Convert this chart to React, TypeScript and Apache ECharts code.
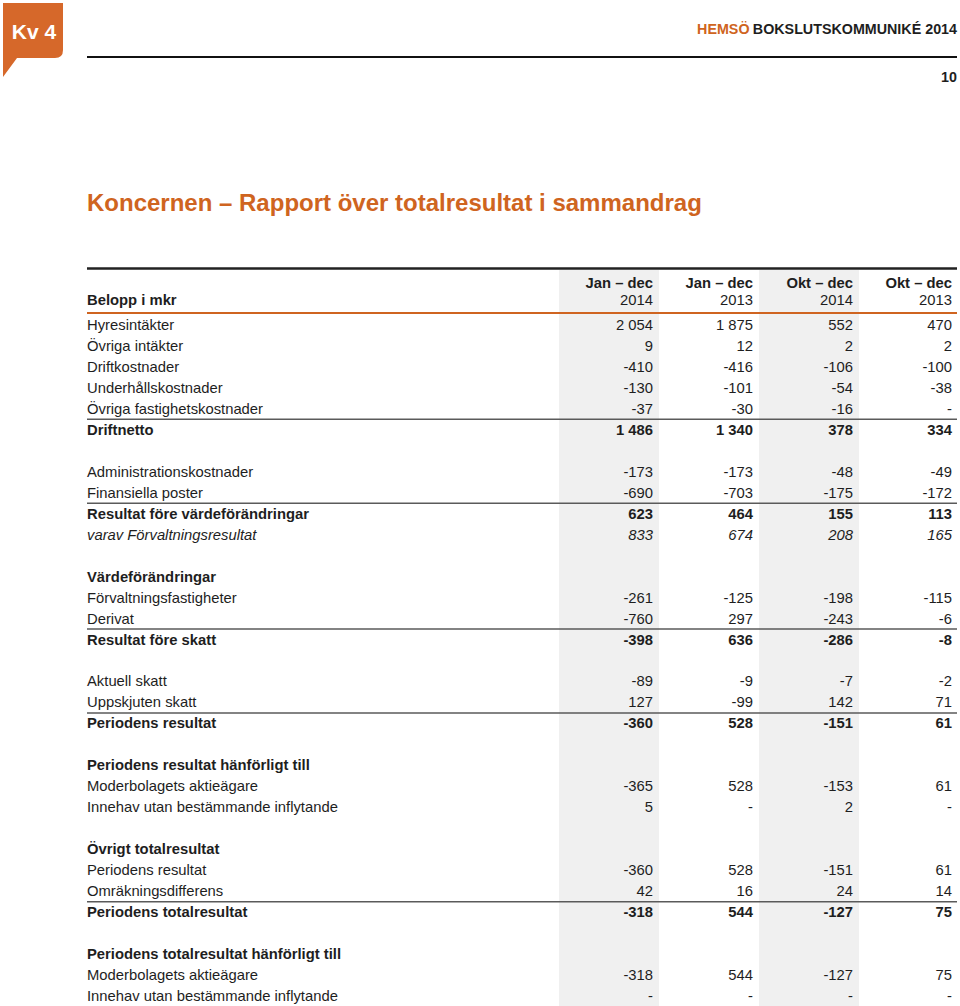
import React, { useEffect, useRef } from "react";
import * as echarts from "echarts";

// ---- Data ----
const columnHeadTop = ["Jan – dec", "Jan – dec", "Okt – dec", "Okt – dec"];
const columnHeadBottom = ["2014", "2013", "2014", "2013"];

// kind: n = normal, b = bold with values, h = bold heading (no values), i = italic, x = blank row
const rowLabels = [
  "Hyresintäkter", "Övriga intäkter", "Driftkostnader", "Underhållskostnader", "Övriga fastighetskostnader", "Driftnetto",
  "", "Administrationskostnader", "Finansiella poster", "Resultat före värdeförändringar", "varav Förvaltningsresultat",
  "", "Värdeförändringar", "Förvaltningsfastigheter", "Derivat", "Resultat före skatt",
  "", "Aktuell skatt", "Uppskjuten skatt", "Periodens resultat",
  "", "Periodens resultat hänförligt till", "Moderbolagets aktieägare", "Innehav utan bestämmande inflytande",
  "", "Övrigt totalresultat", "Periodens resultat", "Omräkningsdifferens", "Periodens totalresultat",
  "", "Periodens totalresultat hänförligt till", "Moderbolagets aktieägare", "Innehav utan bestämmande inflytande",
];
const rowKinds = [
  "n", "n", "n", "n", "n", "b",
  "x", "n", "n", "b", "i",
  "x", "h", "n", "n", "b",
  "x", "n", "n", "b",
  "x", "h", "n", "n",
  "x", "h", "n", "n", "b",
  "x", "h", "n", "n",
];
// null = "-" (or blank for rows without values)
const janDec2014: (number | null)[] = [
  2054, 9, -410, -130, -37, 1486,
  null, -173, -690, 623, 833,
  null, null, -261, -760, -398,
  null, -89, 127, -360,
  null, null, -365, 5,
  null, null, -360, 42, -318,
  null, null, -318, null,
];
const janDec2013: (number | null)[] = [
  1875, 12, -416, -101, -30, 1340,
  null, -173, -703, 464, 674,
  null, null, -125, 297, 636,
  null, -9, -99, 528,
  null, null, 528, null,
  null, null, 528, 16, 544,
  null, null, 544, null,
];
const oktDec2014: (number | null)[] = [
  552, 2, -106, -54, -16, 378,
  null, -48, -175, 155, 208,
  null, null, -198, -243, -286,
  null, -7, 142, -151,
  null, null, -153, 2,
  null, null, -151, 24, -127,
  null, null, -127, null,
];
const oktDec2013: (number | null)[] = [
  470, 2, -100, -38, null, 334,
  null, -49, -172, 113, 165,
  null, null, -115, -6, -8,
  null, -2, 71, 61,
  null, null, 61, null,
  null, null, 61, 14, 75,
  null, null, 75, null,
];
const ruleBeforeRows = [5, 9, 15, 19, 28];

// ---- Layout / style ----
const FONT = "'Liberation Sans', Arial, Helvetica, sans-serif";
const ORANGE = "#cf6420";
const TEXT = "#1e1e1e";
const LEFT = 87;
const RIGHT = 957;
const COL_RIGHT = [653, 753, 853, 952];
const GRAY_X = [559, 759];
const ROW0 = 325;
const ROW_H = 20.97;
const FS = 14.8;

function fmt(v: number | null): string {
  if (v === null) return "-";
  const s = Math.abs(v).toString().replace(/\B(?=(\d{3})+(?!\d))/g, " ");
  return (v < 0 ? "-" : "") + s;
}

export default function App() {
  const ref = useRef<HTMLDivElement>(null);
  useEffect(() => {
    if (!ref.current) return;
    const chart = echarts.init(ref.current, null, { renderer: "svg" });
    try {
      echarts.graphic.registerShape(
        "logo",
        echarts.graphic.extendPath("M3 3 L63 3 L63 50 Q63 58 55 58 L17 58 L3 77 Z", {})
      );
    } catch (e) {}

    const els: any[] = [];
    // gray column backgrounds
    GRAY_X.forEach((x) =>
      els.push({ type: "rect", shape: { x, y: 270, width: 100, height: 740 }, style: { fill: "#f0f0f0" }, silent: true })
    );
    // logo
    els.push({ type: "logo", x: 0, y: 0, style: { fill: "#d6682a" } });
    els.push({
      type: "text", x: 34, y: 31,
      style: { text: "Kv 4", fill: "#fff", font: `bold 21px ${FONT}`, align: "center", verticalAlign: "middle" },
    });
    // header
    els.push({
      type: "text", x: RIGHT, y: 29,
      style: {
        text: "{a|HEMSÖ} {b|BOKSLUTSKOMMUNIKÉ 2014}", align: "right", verticalAlign: "middle",
        rich: {
          a: { fill: ORANGE, fontSize: 14.3, fontWeight: "bold", fontFamily: FONT },
          b: { fill: TEXT, fontSize: 14.3, fontWeight: "bold", fontFamily: FONT },
        },
      },
    });
    els.push({ type: "line", shape: { x1: LEFT, y1: 57, x2: RIGHT, y2: 57 }, style: { stroke: "#111", lineWidth: 2 } });
    els.push({
      type: "text", x: RIGHT, y: 77,
      style: { text: "10", fill: TEXT, font: `bold 14.3px ${FONT}`, align: "right", verticalAlign: "middle" },
    });
    // title
    els.push({
      type: "text", x: LEFT, y: 202,
      style: {
        text: "Koncernen – Rapport över totalresultat i sammandrag", fill: ORANGE,
        font: `bold 24px ${FONT}`, align: "left", verticalAlign: "middle",
      },
    });
    // table top rule
    els.push({ type: "line", shape: { x1: LEFT, y1: 268.5, x2: RIGHT, y2: 268.5 }, style: { stroke: "#222", lineWidth: 2.5 } });
    // column heads
    els.push({
      type: "text", x: LEFT, y: 300,
      style: { text: "Belopp i mkr", fill: TEXT, font: `bold ${FS}px ${FONT}`, align: "left", verticalAlign: "middle" },
    });
    COL_RIGHT.forEach((x, c) => {
      els.push({
        type: "text", x, y: 283,
        style: { text: columnHeadTop[c], fill: TEXT, font: `bold ${FS}px ${FONT}`, align: "right", verticalAlign: "middle" },
      });
      els.push({
        type: "text", x, y: 300,
        style: { text: columnHeadBottom[c], fill: TEXT, font: `${FS}px ${FONT}`, align: "right", verticalAlign: "middle" },
      });
    });
    els.push({ type: "line", shape: { x1: LEFT, y1: 313, x2: RIGHT, y2: 313 }, style: { stroke: ORANGE, lineWidth: 2 } });

    // rows
    const cols = [janDec2014, janDec2013, oktDec2014, oktDec2013];
    rowLabels.forEach((label, i) => {
      const kind = rowKinds[i];
      if (kind === "x") return;
      const y = ROW0 + i * ROW_H;
      const weight = kind === "b" || kind === "h" ? "bold" : "normal";
      const style = kind === "i" ? "italic" : "normal";
      const font = `${style} ${weight} ${FS}px ${FONT}`;
      els.push({
        type: "text", x: LEFT, y,
        style: { text: label, fill: TEXT, font, align: "left", verticalAlign: "middle" },
      });
      if (kind === "h") return;
      cols.forEach((col, c) => {
        els.push({
          type: "text", x: COL_RIGHT[c], y,
          style: { text: fmt(col[i]), fill: TEXT, font, align: "right", verticalAlign: "middle" },
        });
      });
    });
    ruleBeforeRows.forEach((r) => {
      const y = ROW0 + (r - 0.5) * ROW_H;
      els.push({ type: "line", shape: { x1: LEFT, y1: y, x2: RIGHT, y2: y }, style: { stroke: "#5a5a5a", lineWidth: 1.5 } });
    });

    chart.setOption({ animation: false, graphic: { elements: els } });
    return () => chart.dispose();
  }, []);
  return <div ref={ref} style={{ position: "absolute", left: 0, top: 0, width: 960, height: 1006 }} />;
}
